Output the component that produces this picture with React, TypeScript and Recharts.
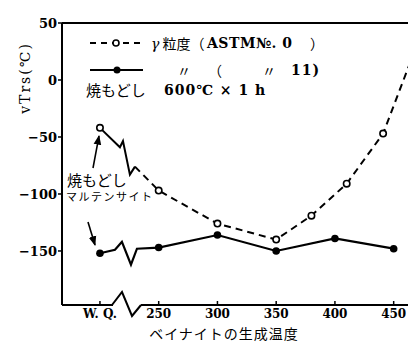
import { LineChart, Line, XAxis, YAxis, ReferenceLine } from "recharts";

// x: ベイナイトの生成温度 (200 = W.Q.), y: vTrs (°C)
const xTicks = [200, 250, 300, 350, 400, 450];
const yTicks = [50, 0, -50, -100, -150];

// γ粒度 ASTM No.0 — solid break part from W.Q. then dashed part
const coarseBreakT = [200, 217, 219.6, 225.5, 229.8];
const coarseBreakV = [-42, -59, -53.5, -83, -76];
const coarseT = [229.8, 250, 300, 350, 380, 410, 441, 468];
const coarseV = [-76, -97, -126, -140, -119, -91, -47, 26];

// γ粒度 ASTM No.11
const fineT = [200, 212.8, 218.7, 226.4, 231.5, 250, 300, 350, 400, 450];
const fineV = [-152, -149, -142, -162, -148, -147, -136, -150, -139, -148];
const fineBreak = [1, 2, 3, 4];

const zip = (t: number[], v: number[]) => t.map((x, i) => ({ t: x, v: v[i] }));

const serif = "'DejaVu Serif', 'Liberation Serif', serif";
const jp = "'Noto Sans CJK JP', sans-serif";

const openDot = (show: (i: number) => boolean) => (p: any) =>
  show(p.index) ? (
    <circle key={p.index} cx={p.cx} cy={p.cy} r={3.2} fill="#fff" stroke="#000" strokeWidth={1.6} />
  ) : (
    <g key={p.index} />
  );

const fillDot = (p: any) =>
  fineBreak.includes(p.index) ? (
    <g key={p.index} />
  ) : (
    <circle key={p.index} cx={p.cx} cy={p.cy} r={3.8} fill="#000" />
  );

const txt = (s: any): React.CSSProperties => ({
  position: "absolute",
  lineHeight: 1,
  whiteSpace: "nowrap",
  color: "#000",
  ...s,
});

export default function App() {
  return (
    <div style={{ position: "relative", width: 416, height: 356, margin: -8, background: "#fff" }}>
      <LineChart width={416} height={356} margin={{ top: 23, right: 0, left: 0, bottom: 0 }}>
        <XAxis
          type="number"
          dataKey="t"
          domain={[167.7, 469]}
          ticks={xTicks}
          height={51}
          tickSize={-4}
          tickMargin={8}
          tickFormatter={(v) => (v === 200 ? "W. Q." : String(v))}
          axisLine={{ stroke: "#000", strokeWidth: 2 }}
          tickLine={{ stroke: "#000", strokeWidth: 1.5 }}
          tick={{ fill: "#000", fontSize: 12, fontFamily: serif, fontWeight: "bold" }}
        />
        <YAxis
          type="number"
          domain={[-197.4, 50]}
          ticks={yTicks}
          width={62}
          tickSize={4}
          tickMargin={1}
          tickFormatter={(v) => (v < 0 ? "\u2212" + Math.abs(v) : String(v))}
          axisLine={{ stroke: "#000", strokeWidth: 2 }}
          tickLine={{ stroke: "#000", strokeWidth: 1.5 }}
          tick={{ fill: "#000", fontSize: 13, fontFamily: serif, fontWeight: "bold" }}
        />
        <ReferenceLine y={50} stroke="#000" strokeWidth={2} />
        <Line
          data={zip(coarseBreakT, coarseBreakV)}
          dataKey="v"
          stroke="#000"
          strokeWidth={2}
          dot={openDot((i) => i === 0)}
          isAnimationActive={false}
        />
        <Line
          data={zip(coarseT, coarseV)}
          dataKey="v"
          stroke="#000"
          strokeWidth={2}
          strokeDasharray="7 5"
          dot={openDot((i) => i !== 0)}
          isAnimationActive={false}
        />
        <Line
          data={zip(fineT, fineV)}
          dataKey="v"
          stroke="#000"
          strokeWidth={2.2}
          dot={fillDot}
          isAnimationActive={false}
        />
      </LineChart>

      {/* overlay: legend samples, arrows, axis break */}
      <svg width={416} height={356} style={{ position: "absolute", left: 0, top: 0, pointerEvents: "none" }}>
        <defs>
          <marker id="ah" viewBox="0 0 10 10" refX="9" refY="5" markerWidth="6" markerHeight="6" orient="auto">
            <path d="M0,1 L10,5 L0,9 z" fill="#000" />
          </marker>
        </defs>
        <line x1={90} y1={43} x2={143} y2={43} stroke="#000" strokeWidth={2} strokeDasharray="6 5" />
        <circle cx={116} cy={43} r={3} fill="#fff" stroke="#000" strokeWidth={1.6} />
        <line x1={90} y1={70} x2={143} y2={70} stroke="#000" strokeWidth={2.2} />
        <circle cx={117} cy={70} r={3.5} fill="#000" />
        <line x1={93} y1={168} x2={99} y2={136} stroke="#000" strokeWidth={1.6} markerEnd="url(#ah)" />
        <line x1={88} y1={222} x2={95} y2={245} stroke="#000" strokeWidth={1.6} markerEnd="url(#ah)" />
        <rect x={113} y={302} width={28} height={7} fill="#fff" />
        <polyline points="112,305 122,292 132,316 141,305" fill="none" stroke="#000" strokeWidth={2} />
      </svg>

      <div style={txt({ left: 151, top: 36, fontSize: 14 })}>
        <span style={{ fontFamily: serif, fontStyle: "italic" }}>γ</span>
        <span style={{ fontFamily: jp }}> 粒度（</span>
      </div>
      <div style={txt({ left: 207, top: 36, fontSize: 14, fontFamily: serif, fontWeight: "bold", letterSpacing: 0.5 })}>
        ASTM№. 0
      </div>
      <div style={txt({ left: 310, top: 36, fontSize: 14, fontFamily: jp })}>）</div>
      <div style={txt({ left: 177, top: 63, fontSize: 14, fontFamily: jp })}>〃</div>
      <div style={txt({ left: 208, top: 63, fontSize: 14, fontFamily: jp })}>（</div>
      <div style={txt({ left: 262, top: 63, fontSize: 14, fontFamily: jp })}>〃</div>
      <div style={txt({ left: 291, top: 63, fontSize: 14, fontFamily: serif, fontWeight: "bold", letterSpacing: 1 })}>11)</div>
      <div style={txt({ left: 86, top: 82, fontSize: 15, fontFamily: jp })}>焼もどし</div>
      <div style={txt({ left: 164, top: 83, fontSize: 14, fontFamily: serif, fontWeight: "bold", letterSpacing: 1 })}>
        600℃ × 1 h
      </div>
      <div style={txt({ left: 67, top: 172, fontSize: 15, fontFamily: jp })}>焼もどし</div>
      <div style={txt({ left: 66, top: 191, fontSize: 11, fontFamily: jp, letterSpacing: 1.5 })}>マルテンサイト</div>
      <div
        style={txt({
          left: 25,
          top: 78,
          fontSize: 14,
          fontFamily: serif,
          letterSpacing: 2,
          transform: "translate(-50%, -50%) rotate(-90deg)",
        })}
      >
        vTrs(℃)
      </div>
      <div style={txt({ left: 224, top: 333, fontSize: 14, fontFamily: jp, letterSpacing: 1, transform: "translate(-50%, -50%)" })}>
        ベイナイトの生成温度
      </div>
    </div>
  );
}
